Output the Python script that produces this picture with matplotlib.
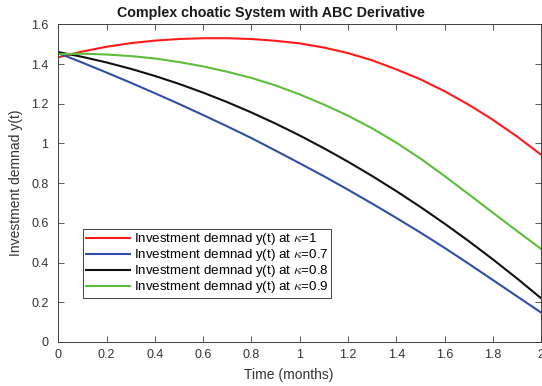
import numpy as np
import matplotlib
matplotlib.use("Agg")
import matplotlib.pyplot as plt

# values at t = 0, 0.1, ..., 2
t = [0.0, 0.1, 0.2, 0.3, 0.4, 0.5, 0.6, 0.7, 0.8, 0.9, 1.0,
     1.1, 1.2, 1.3, 1.4, 1.5, 1.6, 1.7, 1.8, 1.9, 2.0]
y_k1 = [1.434, 1.463, 1.487, 1.505, 1.518, 1.526, 1.530, 1.530, 1.526, 1.517, 1.504,
        1.483, 1.455, 1.419, 1.373, 1.323, 1.263, 1.195, 1.119, 1.035, 0.943]
y_k07 = [1.455, 1.407, 1.357, 1.306, 1.253, 1.199, 1.143, 1.086, 1.027, 0.964, 0.900,
         0.835, 0.767, 0.697, 0.625, 0.551, 0.474, 0.394, 0.312, 0.230, 0.148]
y_k08 = [1.460, 1.436, 1.408, 1.376, 1.340, 1.300, 1.256, 1.208, 1.156, 1.100, 1.040,
         0.976, 0.908, 0.836, 0.760, 0.680, 0.596, 0.508, 0.416, 0.320, 0.220]
y_k09 = [1.450, 1.452, 1.448, 1.440, 1.428, 1.410, 1.388, 1.361, 1.330, 1.292, 1.247,
         1.196, 1.140, 1.076, 1.004, 0.924, 0.836, 0.744, 0.651, 0.559, 0.468]

series = [
    (y_k1, "#FF1A1A", r"Investment demnad y(t) at $\kappa$=1"),
    (y_k07, "#2F4FA6", r"Investment demnad y(t) at $\kappa$=0.7"),
    (y_k08, "#111111", r"Investment demnad y(t) at $\kappa$=0.8"),
    (y_k09, "#5DBE3A", r"Investment demnad y(t) at $\kappa$=0.9"),
]

plt.rcParams['font.family'] = ['Liberation Sans', 'DejaVu Sans']
plt.rcParams['mathtext.fontset'] = 'cm'

fig = plt.figure(figsize=(5.42, 3.86), dpi=100)
ax = fig.add_axes([0.1075, 0.114, 0.891, 0.823])

for ys, col, lab in series:
    ax.plot(t, ys, color=col, lw=1.5, label=lab)

ax.set_xlim(0, 2)
ax.set_ylim(0, 1.6)
ax.set_xticks(np.arange(0, 2.01, 0.2))
ax.set_xticklabels(["0", "0.2", "0.4", "0.6", "0.8", "1", "1.2", "1.4", "1.6", "1.8", "2"])
ax.set_yticks(np.arange(0, 1.61, 0.2))
ax.set_yticklabels(["0", "0.2", "0.4", "0.6", "0.8", "1", "1.2", "1.4", "1.6"])
ax.tick_params(direction='in', top=True, right=True, length=4, labelsize=9,
               colors='#404040', labelcolor='#333333', width=0.6)
ax.tick_params(axis='x', pad=5)
ax.tick_params(axis='y', pad=7)
for s in ax.spines.values():
    s.set_color('#404040')
    s.set_linewidth(0.7)

ax.set_title("Complex choatic System with ABC Derivative", fontsize=10.3,
             fontweight='bold', color='#1a1a1a', x=0.44, pad=5)
ax.set_xlabel("Time (months)", fontsize=10, color='#333333', labelpad=5, x=0.477)
ax.set_ylabel("Investment demnad y(t)", fontsize=10, color='#333333', labelpad=6)

leg = ax.legend(loc='upper left', bbox_to_anchor=(0.051, 0.357), fontsize=9.6,
                handlelength=3.3, handletextpad=0.3, borderpad=0.2, labelspacing=0.0,
                fancybox=False, framealpha=1, edgecolor='#404040', borderaxespad=0)
leg.get_frame().set_linewidth(0.7)

fig.savefig("out.png", dpi=100)
